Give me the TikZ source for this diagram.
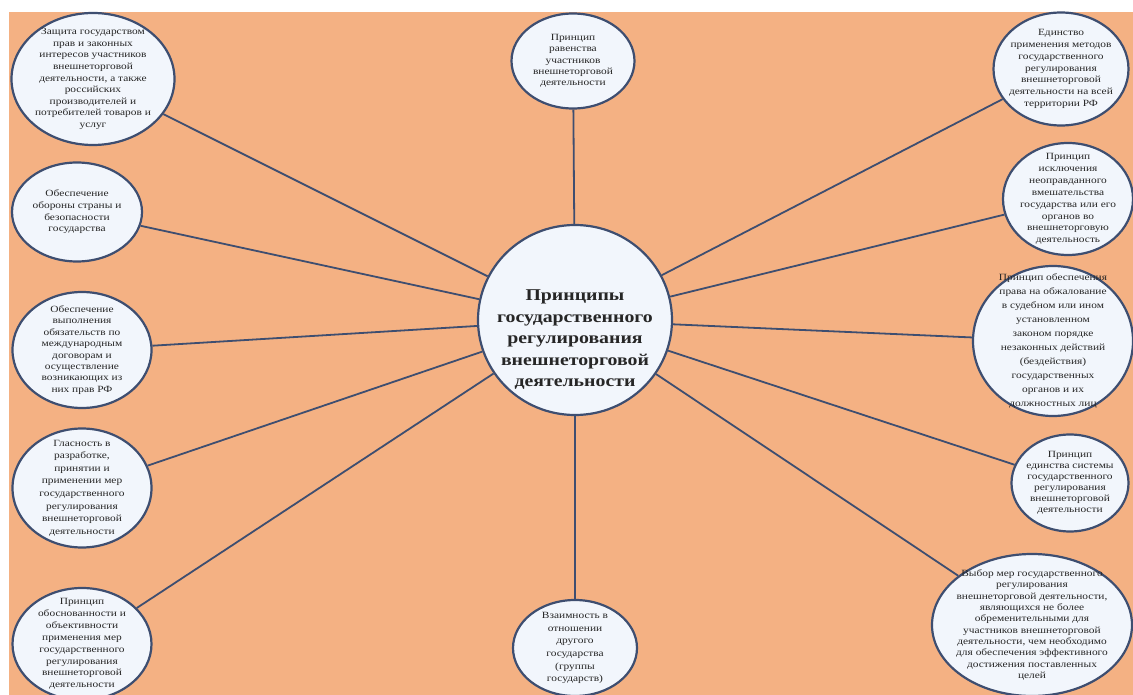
\documentclass[tikz,border=0pt]{standalone}
\usepackage{fontspec}
\setmainfont{Liberation Serif}[FakeStretch=1.2]
\usetikzlibrary{shapes.geometric}
\definecolor{bgorange}{RGB}{244,177,131}
\definecolor{ellfill}{RGB}{242,246,252}
\definecolor{ellrim}{RGB}{62,78,112}
\tikzset{
  ell/.style={ellipse,draw=ellrim,line width=2.2pt,fill=ellfill,inner sep=0pt},
  ptext/.style={align=center,inner sep=0pt,text=black!85},
  link/.style={draw=ellrim,line width=1.8pt}
}

\begin{document}
\begin{tikzpicture}[x=1pt,y=-1pt]
\useasboundingbox (0,0) rectangle (1133,695);
\clip (0,0) rectangle (1133,695);
\fill[white] (0,0) rectangle (1133,695);
\fill[bgorange] (9,12) rectangle (1133,695);

% central ellipse
\node[ell,minimum width=194pt,minimum height=190pt] (core) at (575,320) {};
\node[ptext,font=\fontsize{16.5}{21.5}\selectfont\bfseries] (coretext) at ([yshift=-20pt]core)
  {Принципы\\государственного\\регулирования\\внешнеторговой\\деятельности};

% principles
\foreach \n/\x/\y/\w/\h/\bs/\txt in {
  1/93/79/163/132/11.6/{Защита государством\\прав и законных\\интересов участников\\внешнеторговой\\деятельности, а также\\российских\\производителей и\\потребителей товаров и\\услуг},
  2/573/61/123/95/11.3/{Принцип\\равенства\\участников\\внешнеторговой\\деятельности},
  3/1061/69/135/113/11.9/{Единство\\применения методов\\государственного\\регулирования\\внешнеторговой\\деятельности на всей\\территории РФ},
  4/77/212/130/99/11.7/{Обеспечение\\обороны страны и\\безопасности\\государства},
  5/1068/199/130/112/11.9/{Принцип\\исключения\\неоправданного\\вмешательства\\государства или его\\органов во\\внешнеторговую\\деятельность},
  6/82/350/139/116/11.4/{Обеспечение\\выполнения\\обязательств по\\международным\\договорам и\\осуществление\\возникающих из\\них прав РФ},
  7/1053/341/160/150/14/{Принцип обеспечения\\права на обжалование\\в судебном или ином\\установленном\\законом порядке\\незаконных действий\\(бездействия)\\государственных\\органов и их\\должностных лиц},
  8/82/488/139/119/12.6/{Гласность в\\разработке,\\принятии и\\применении мер\\государственного\\регулирования\\внешнеторговой\\деятельности},
  9/1070/483/117/97/11/{Принцип\\единства системы\\государственного\\регулирования\\внешнеторговой\\деятельности},
  10/82/644/139/112/11.9/{Принцип\\обоснованности и\\объективности\\применения мер\\государственного\\регулирования\\внешнеторговой\\деятельности},
  11/575/648/124/96/12.7/{Взаимность в\\отношении\\другого\\государства\\(группы\\государств)},
  12/1032/625/200/142/11.3/{Выбор мер государственного\\регулирования\\внешнеторговой деятельности,\\являющихся не более\\обременительными для\\участников внешнеторговой\\деятельности, чем необходимо\\для обеспечения эффективного\\достижения поставленных\\целей}%
}{
  \node[ell,minimum width=\w pt,minimum height=\h pt] (p\n) at (\x,\y) {};
  \node[ptext,font=\fontsize{9.5}{\bs}\selectfont] (t\n) at (p\n) {\txt};
}

% connectors
\foreach \n in {1,...,12}
  \draw[link] (core) -- (p\n);
\end{tikzpicture}
\end{document}
